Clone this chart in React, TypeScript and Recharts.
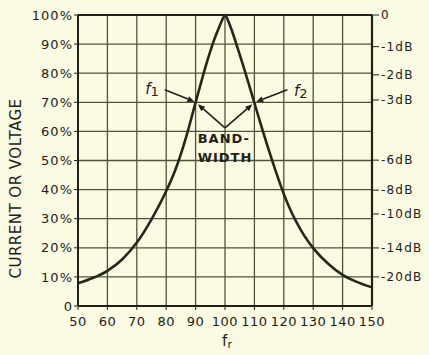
import React from "react";
import {
  LineChart,
  Line,
  XAxis,
  YAxis,
  CartesianGrid,
  ReferenceLine,
  ReferenceDot,
} from "recharts";

// Resonance curve: frequency (relative) vs. current/voltage (%)
const freqs = [50, 55, 60, 65, 70, 75, 80, 83, 85, 87, 89, 90, 92, 94, 96, 98, 99, 100, 101, 102, 104, 106, 108, 110, 112, 114, 116, 118, 120, 122, 124, 127, 130, 135, 140, 145, 150];
const percent = [7.8, 9.6, 12.1, 16, 21.8, 29.8, 39.5, 46.5, 52.2, 58.8, 66.2, 70, 77.3, 84.3, 90.6, 95.8, 98.2, 100, 98.2, 95.6, 89.6, 83.2, 76.6, 69.8, 63, 56.4, 50.1, 44.1, 38.5, 33.6, 29.4, 24.1, 19.9, 14.6, 10.7, 8.2, 6.4];

const xTicks = [50, 60, 70, 80, 90, 100, 110, 120, 130, 140, 150];
const yTicks = [0, 10, 20, 30, 40, 50, 60, 70, 80, 90, 100];
const dbLevels = [0, -1, -2, -3, -6, -8, -10, -14, -20];
const dbLabels = ["0", "-1dB", "-2dB", "-3dB", "-6dB", "-8dB", "-10dB", "-14dB", "-20dB"];
const dbTicks = dbLevels.map((d) => 100 * Math.pow(10, d / 20));

const data = freqs.map((f, i) => ({ f, v: percent[i] }));

const INK = "#1f2118";
const GRID = "#4f5438";
const BG = "#fbfbe4";
const FONT = "'DejaVu Sans', sans-serif";

const arrowShape = (props: any) => {
  const { x1, y1, x2, y2 } = props;
  const ang = Math.atan2(y2 - y1, x2 - x1);
  const L = 7;
  const W = 3;
  const bx = x2 - L * Math.cos(ang);
  const by = y2 - L * Math.sin(ang);
  const px = -Math.sin(ang) * W;
  const py = Math.cos(ang) * W;
  return (
    <g>
      <line x1={x1} y1={y1} x2={bx} y2={by} stroke={INK} strokeWidth={1.6} />
      <polygon points={`${x2},${y2} ${bx + px},${by + py} ${bx - px},${by - py}`} fill={INK} />
    </g>
  );
};

const textShape = (content: React.ReactNode, size = 13, weight: any = "bold", spacing = 1) => (props: any) => (
  <text
    x={props.cx}
    y={props.cy}
    textAnchor="middle"
    dominantBaseline="central"
    fontFamily={FONT}
    fontSize={size}
    fontWeight={weight}
    letterSpacing={spacing}
    fill={INK}
  >
    {content}
  </text>
);

const fText = (sub: string) => (props: any) => (
  <text x={props.cx} y={props.cy} textAnchor="middle" dominantBaseline="central" fontFamily={FONT} fill={INK}>
    <tspan fontSize={15} fontStyle="italic">f</tspan>
    <tspan fontSize={13} dy={2}>{sub}</tspan>
  </text>
);

const XLabel = () => (
  <text x={227} y={341} textAnchor="middle" dominantBaseline="central" fontFamily={FONT} fill={INK}>
    <tspan fontSize={15}>f</tspan>
    <tspan fontSize={11} dy={3}>r</tspan>
  </text>
);

export default function App() {
  return (
    <div style={{ position: "absolute", left: 0, top: 0, width: 429, height: 355, background: BG }}>
      <LineChart width={429} height={355} data={data} margin={{ top: 15, right: 0, bottom: 0, left: 0 }}>
        <CartesianGrid yAxisId="left" stroke={GRID} strokeWidth={1.3} fill="none" />
        <XAxis
          dataKey="f"
          type="number"
          domain={[50, 150]}
          ticks={xTicks}
          height={49}
          axisLine={{ stroke: INK, strokeWidth: 2 }}
          tickLine={{ stroke: INK }}
          tickSize={4}
          tickMargin={7}
          tick={{ fill: INK, fontSize: 13, fontFamily: FONT, letterSpacing: 0.5 }}
          interval={0}
          label={<XLabel />}
        />
        <YAxis
          yAxisId="left"
          domain={[0, 100]}
          ticks={yTicks}
          width={78}
          axisLine={{ stroke: INK, strokeWidth: 2 }}
          tickLine={{ stroke: INK }}
          tickSize={4}
          tickMargin={1}
          interval={0}
          tickFormatter={(v: number) => (v === 0 ? "0" : `${v}%`)}
          tick={{ fill: INK, fontSize: 13, fontFamily: FONT, letterSpacing: 1 }}
          label={{
            value: "CURRENT OR VOLTAGE",
            angle: -90,
            position: "insideLeft",
            offset: 16,
            dy: 28,
            style: { fill: INK, fontSize: 15, fontFamily: FONT, letterSpacing: 0.5, textAnchor: "middle" },
          }}
        />
        <YAxis
          yAxisId="right"
          orientation="right"
          domain={[0, 100]}
          allowDataOverflow
          ticks={dbTicks}
          width={57}
          axisLine={{ stroke: INK, strokeWidth: 2.2 }}
          tickLine={{ stroke: INK }}
          tickSize={7}
          tickMargin={2}
          interval={0}
          tickFormatter={(_v: number, i: number) => dbLabels[i]}
          tick={{ fill: INK, fontSize: 12, fontFamily: FONT, letterSpacing: 1.2 }}
        />
        <ReferenceLine yAxisId="left" y={100} stroke={INK} strokeWidth={2} />
        {/* same curve bound to the dB axis so that axis gets drawn (invisible) */}
        <Line
          yAxisId="right"
          dataKey="v"
          type="monotone"
          stroke="none"
          strokeWidth={0}
          dot={false}
          activeDot={false}
          isAnimationActive={false}
          legendType="none"
        />
        <Line
          yAxisId="left"
          dataKey="v"
          type="monotone"
          stroke="#24281a"
          strokeWidth={2.6}
          dot={false}
          isAnimationActive={false}
        />
        {/* f1 / f2 arrows */}
        <ReferenceLine yAxisId="left" segment={[{ x: 79.5, y: 74.3 }, { x: 89.6, y: 70.2 }]} shape={arrowShape} />
        <ReferenceLine yAxisId="left" segment={[{ x: 121.2, y: 74.3 }, { x: 110.6, y: 70.2 }]} shape={arrowShape} />
        {/* bandwidth V */}
        <ReferenceLine yAxisId="left" segment={[{ x: 100, y: 61.2 }, { x: 90.8, y: 69.3 }]} shape={arrowShape} />
        <ReferenceLine yAxisId="left" segment={[{ x: 100, y: 61.2 }, { x: 109.3, y: 69.3 }]} shape={arrowShape} />
        <ReferenceDot yAxisId="left" x={75.2} y={74.5} r={0} shape={fText("1")} />
        <ReferenceDot yAxisId="left" x={125.8} y={74.0} r={0} shape={fText("2")} />
        <ReferenceDot yAxisId="left" x={99.6} y={57.4} r={0} shape={textShape("BAND-")} />
        <ReferenceDot yAxisId="left" x={100} y={51.0} r={0} shape={textShape("WIDTH")} />
      </LineChart>
    </div>
  );
}
